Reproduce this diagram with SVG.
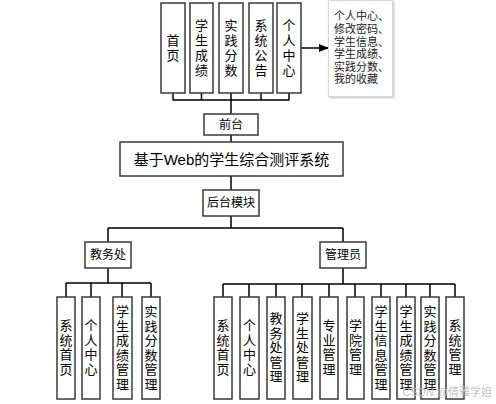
<svg xmlns="http://www.w3.org/2000/svg" width="496" height="404" viewBox="0 0 496 404">
<defs>
<style>
.box{fill:#fff;stroke:#3a3a3a;stroke-width:1.5}
.ln{fill:none;stroke:#000;stroke-width:1.5}
.t{font-family:"Liberation Sans","Noto Sans CJK SC",sans-serif;font-size:13px;fill:#000;text-anchor:middle}
.s{font-size:12px}
.n{font-family:"Liberation Sans","Noto Sans CJK SC",sans-serif;font-size:11px;fill:#222}
</style>
<marker id="ah" markerWidth="10" markerHeight="8" refX="9" refY="4" orient="auto" markerUnits="userSpaceOnUse">
<path d="M0,0 L10,4 L0,8 Z" fill="#000"/>
</marker>
<filter id="sh" x="-20%" y="-20%" width="150%" height="150%">
<feDropShadow dx="1" dy="1" stdDeviation="1.2" flood-color="#000" flood-opacity="0.25"/>
</filter>
</defs>
<rect width="496" height="404" fill="#fff"/>

<g id="connectors">
<path class="ln" d="M173,93 V100 M201.5,93 V100 M231,93 V100 M261,93 V100 M289,93 V100 M172.5,100 H289.5 M231,100 V114"/>
<path class="ln" d="M231,135 V142 M231,176 V190 M231,216 V228 M108,228 H343 M108,228 V242 M343,228 V242"/>
<path class="ln" d="M108,268 V283 M66,283 H151 M66,283 V297 M91,283 V297 M122,283 V297 M151,283 V297"/>
<path class="ln" d="M343,268 V284 M223,284 H455 M223,284 V297 M249,284 V297 M276,284 V297 M302,284 V297 M329,284 V297 M355,284 V297 M381,284 V297 M406,284 V297 M430,284 V297 M455,284 V297"/>
<path class="ln" d="M301,48 H328" marker-end="url(#ah)"/>
</g>

<g id="n-shouye"><rect class="box" x="161" y="3" width="24" height="90"/><text class="t"><tspan x="173" y="45">首</tspan><tspan x="173" y="60">页</tspan></text></g>
<g id="n-xscj"><rect class="box" x="190" y="3" width="23" height="90"/><text class="t"><tspan x="201.5" y="30">学</tspan><tspan x="201.5" y="45">生</tspan><tspan x="201.5" y="60">成</tspan><tspan x="201.5" y="75">绩</tspan></text></g>
<g id="n-sjfs"><rect class="box" x="219" y="3" width="24" height="90"/><text class="t"><tspan x="231" y="30">实</tspan><tspan x="231" y="45">践</tspan><tspan x="231" y="60">分</tspan><tspan x="231" y="75">数</tspan></text></g>
<g id="n-xtgg"><rect class="box" x="249" y="3" width="24" height="90"/><text class="t"><tspan x="261" y="30">系</tspan><tspan x="261" y="45">统</tspan><tspan x="261" y="60">公</tspan><tspan x="261" y="75">告</tspan></text></g>
<g id="n-grzx"><rect class="box" x="277" y="3" width="24" height="90"/><text class="t"><tspan x="289" y="30">个</tspan><tspan x="289" y="45">人</tspan><tspan x="289" y="60">中</tspan><tspan x="289" y="75">心</tspan></text></g>

<g id="n-note"><rect x="328.5" y="0.5" width="64" height="96" fill="#fff" stroke="#d8d8d8" stroke-width="1" filter="url(#sh)"/>
<text class="n"><tspan x="334" y="20">个人中心、</tspan><tspan x="334" y="33">修改密码、</tspan><tspan x="334" y="45.5">学生信息、</tspan><tspan x="334" y="58">学生成绩、</tspan><tspan x="334" y="70.5">实践分数、</tspan><tspan x="334" y="83">我的收藏</tspan></text></g>

<g id="n-qiantai"><rect class="box" x="204" y="114" width="54" height="21"/><text class="t s" x="231" y="129">前台</text></g>
<g id="n-main"><rect class="box" x="120" y="142" width="223" height="34"/><text class="t" style="font-size:15px" x="231.5" y="165">基于Web的学生综合测评系统</text></g>
<g id="n-houtai"><rect class="box" x="203" y="190" width="56" height="26"/><text class="t s" x="231" y="207">后台模块</text></g>
<g id="n-jwc"><rect class="box" x="85" y="242" width="46" height="26"/><text class="t s" x="108" y="259">教务处</text></g>
<g id="n-gly"><rect class="box" x="320" y="242" width="46" height="26"/><text class="t s" x="343" y="259">管理员</text></g>

<g id="n-j1"><rect class="box" x="57" y="297" width="18" height="102"/><text class="t"><tspan x="66" y="330">系</tspan><tspan x="66" y="344.5">统</tspan><tspan x="66" y="359">首</tspan><tspan x="66" y="373.5">页</tspan></text></g>
<g id="n-j2"><rect class="box" x="82" y="297" width="18" height="102"/><text class="t"><tspan x="91" y="330">个</tspan><tspan x="91" y="344.5">人</tspan><tspan x="91" y="359">中</tspan><tspan x="91" y="373.5">心</tspan></text></g>
<g id="n-j3"><rect class="box" x="113" y="297" width="19" height="102"/><text class="t"><tspan x="122.5" y="316">学</tspan><tspan x="122.5" y="330.5">生</tspan><tspan x="122.5" y="345">成</tspan><tspan x="122.5" y="359.5">绩</tspan><tspan x="122.5" y="374">管</tspan><tspan x="122.5" y="388.5">理</tspan></text></g>
<g id="n-j4"><rect class="box" x="142" y="297" width="18" height="102"/><text class="t"><tspan x="151" y="316">实</tspan><tspan x="151" y="330.5">践</tspan><tspan x="151" y="345">分</tspan><tspan x="151" y="359.5">数</tspan><tspan x="151" y="374">管</tspan><tspan x="151" y="388.5">理</tspan></text></g>

<g id="n-g1"><rect class="box" x="214" y="297" width="18" height="102"/><text class="t"><tspan x="223" y="330">系</tspan><tspan x="223" y="344.5">统</tspan><tspan x="223" y="359">首</tspan><tspan x="223" y="373.5">页</tspan></text></g>
<g id="n-g2"><rect class="box" x="240" y="297" width="19" height="102"/><text class="t"><tspan x="249.5" y="330">个</tspan><tspan x="249.5" y="344.5">人</tspan><tspan x="249.5" y="359">中</tspan><tspan x="249.5" y="373.5">心</tspan></text></g>
<g id="n-g3"><rect class="box" x="267" y="297" width="18" height="102"/><text class="t"><tspan x="276" y="323">教</tspan><tspan x="276" y="337.5">务</tspan><tspan x="276" y="352">处</tspan><tspan x="276" y="366.5">管</tspan><tspan x="276" y="381">理</tspan></text></g>
<g id="n-g4"><rect class="box" x="293" y="297" width="19" height="102"/><text class="t"><tspan x="302.5" y="323">学</tspan><tspan x="302.5" y="337.5">生</tspan><tspan x="302.5" y="352">处</tspan><tspan x="302.5" y="366.5">管</tspan><tspan x="302.5" y="381">理</tspan></text></g>
<g id="n-g5"><rect class="box" x="320" y="297" width="18" height="102"/><text class="t"><tspan x="329" y="330">专</tspan><tspan x="329" y="344.5">业</tspan><tspan x="329" y="359">管</tspan><tspan x="329" y="373.5">理</tspan></text></g>
<g id="n-g6"><rect class="box" x="347" y="297" width="17" height="102"/><text class="t"><tspan x="355.5" y="330">学</tspan><tspan x="355.5" y="344.5">院</tspan><tspan x="355.5" y="359">管</tspan><tspan x="355.5" y="373.5">理</tspan></text></g>
<g id="n-g7"><rect class="box" x="372" y="297" width="18" height="102"/><text class="t"><tspan x="381" y="316">学</tspan><tspan x="381" y="330.5">生</tspan><tspan x="381" y="345">信</tspan><tspan x="381" y="359.5">息</tspan><tspan x="381" y="374">管</tspan><tspan x="381" y="388.5">理</tspan></text></g>
<g id="n-g8"><rect class="box" x="397" y="297" width="18" height="102"/><text class="t"><tspan x="406" y="316">学</tspan><tspan x="406" y="330.5">生</tspan><tspan x="406" y="345">成</tspan><tspan x="406" y="359.5">绩</tspan><tspan x="406" y="374">管</tspan><tspan x="406" y="388.5">理</tspan></text></g>
<g id="n-g9"><rect class="box" x="421" y="297" width="18" height="102"/><text class="t"><tspan x="430" y="316">实</tspan><tspan x="430" y="330.5">践</tspan><tspan x="430" y="345">分</tspan><tspan x="430" y="359.5">数</tspan><tspan x="430" y="374">管</tspan><tspan x="430" y="388.5">理</tspan></text></g>
<g id="n-g10"><rect class="box" x="446" y="297" width="18" height="102"/><text class="t"><tspan x="455" y="330">系</tspan><tspan x="455" y="344.5">统</tspan><tspan x="455" y="359">管</tspan><tspan x="455" y="373.5">理</tspan></text></g>

<text x="492" y="396" style="font-family:'Liberation Sans','Noto Sans CJK SC',sans-serif;font-size:11px;fill:#c4c4c4;text-anchor:end">CSDN @倩雅学姐</text>
</svg>
